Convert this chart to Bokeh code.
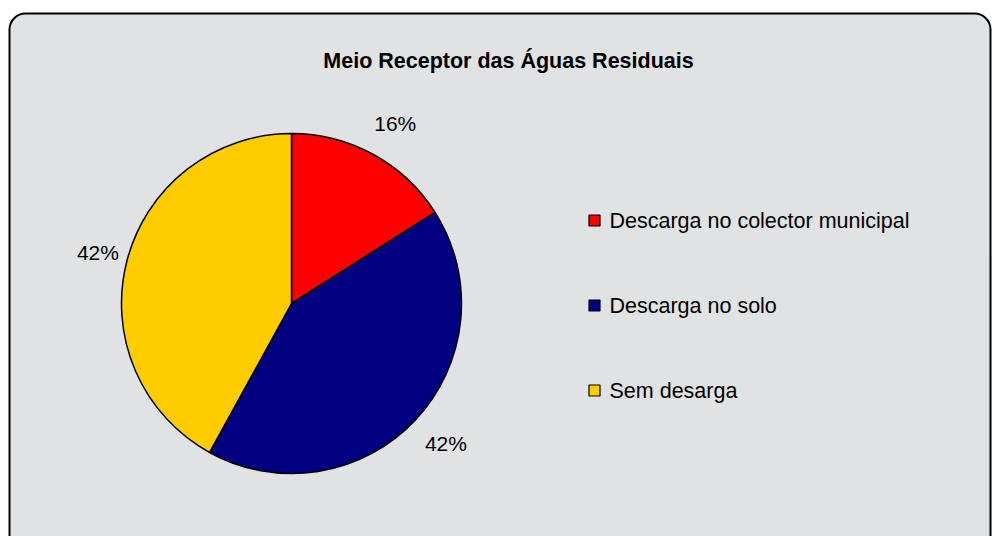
import math
from bokeh.plotting import figure
from bokeh.models import ColumnDataSource, Range1d, BoxAnnotation
from bokeh.core.properties import value
from bokeh.embed import file_html
from bokeh.resources import INLINE

# ---- data ----
title_text = "Meio Receptor das Águas Residuais"
categories = ["Descarga no colector municipal", "Descarga no solo", "Sem desarga"]
shares = [16, 42, 42]
colors = ["#FF0000", "#000080", "#FFCC00"]

W, H = 992, 536
FONT = value("Liberation Sans")

p = figure(width=W, height=H, output_backend="svg", toolbar_location=None,
           x_range=Range1d(0, W), y_range=Range1d(0, H), min_border=0)
p.axis.visible = False
p.grid.visible = False
p.outline_line_color = None
p.background_fill_color = "white"
p.border_fill_color = "white"

# chart area frame (rounded, marble-like grey)
frame = BoxAnnotation(left=9, right=990, top=H - 13, bottom=-30,
                      fill_color="#e1e2e4", fill_alpha=1.0,
                      line_color="black", line_alpha=1.0, line_width=2,
                      border_radius=16, level="underlay")
p.add_layout(frame)

# pie geometry (image coords -> data: y = H - iy)
cx, cy, r = 291, H - 303, 170
total = float(sum(shares))
starts, ends, mids = [], [], []
cum = 0.0
for s in shares:
    a0 = math.pi / 2 - 2 * math.pi * cum / total
    cum += s
    a1 = math.pi / 2 - 2 * math.pi * cum / total
    starts.append(a0)
    ends.append(a1)
    mids.append((a0 + a1) / 2)

src = ColumnDataSource(dict(start=starts, end=ends, color=colors, cat=categories))
p.wedge(x=cx, y=cy, radius=r, start_angle="start", end_angle="end",
        direction="clock", fill_color="color", line_color="black",
        line_width=1.5, source=src)

# percentage labels
lr = 205
lab_src = ColumnDataSource(dict(
    x=[cx + 5 + lr * math.cos(m) for m in mids],
    y=[cy + lr * math.sin(m) for m in mids],
    t=[f"{s}%" for s in shares]))
p.text(x="x", y="y", text="t", source=lab_src, text_font=FONT,
       text_font_size="21px", text_align="center", text_baseline="middle",
       text_color="black")

# title
p.text(x=[508], y=[H - 60], text=[title_text], text_font=FONT,
       text_font_size="21.5px", text_font_style="bold",
       text_align="center", text_baseline="middle", text_color="black")

# legend (manual)
lx, ly0, step = 594, H - 220, 85
leg_src = ColumnDataSource(dict(
    x=[lx] * len(categories),
    y=[ly0 - i * step for i in range(len(categories))],
    tx=[lx + 15] * len(categories),
    color=colors, cat=categories))
p.rect(x="x", y="y", width=11, height=11, width_units="screen",
       height_units="screen", fill_color="color", line_color="black",
       line_width=1.2, source=leg_src)
p.text(x="tx", y="y", text="cat", source=leg_src, text_font=FONT,
       text_font_size="21.5px", text_align="left", text_baseline="middle",
       text_color="black")

open("out.html", "w").write(file_html(p, INLINE))
